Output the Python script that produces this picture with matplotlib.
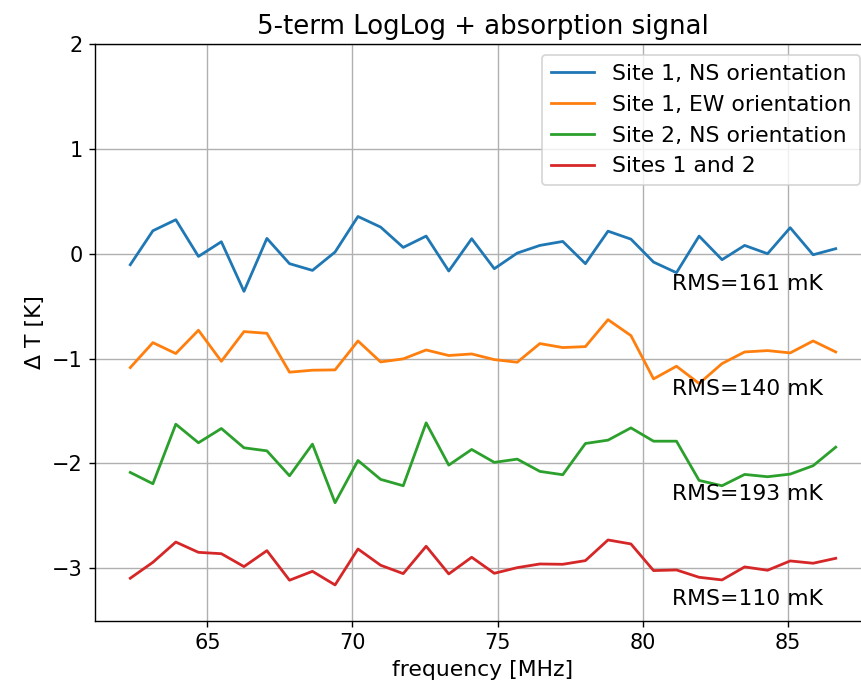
import matplotlib
matplotlib.use("Agg")
import matplotlib.pyplot as plt

freq = [62.34, 63.12, 63.91, 64.69, 65.48, 66.26, 67.05, 67.83,
        68.62, 69.40, 70.19, 70.97, 71.75, 72.54, 73.32, 74.11,
        74.89, 75.68, 76.46, 77.25, 78.03, 78.81, 79.60, 80.38,
        81.17, 81.95, 82.74, 83.52, 84.31, 85.09, 85.88, 86.66]

site1_ns = [-0.105, 0.219, 0.324, -0.026, 0.114, -0.359, 0.146, -0.095,
            -0.159, 0.016, 0.355, 0.254, 0.060, 0.168, -0.165, 0.143,
            -0.143, 0.006, 0.079, 0.117, -0.095, 0.215, 0.139, -0.080,
            -0.181, 0.168, -0.057, 0.079, 0.000, 0.248, -0.010, 0.048]

site1_ew = [-1.086, -0.848, -0.952, -0.730, -1.026, -0.743, -0.759, -1.130,
            -1.111, -1.108, -0.832, -1.032, -1.003, -0.918, -0.971, -0.956,
            -1.010, -1.035, -0.857, -0.895, -0.886, -0.629, -0.781, -1.194,
            -1.073, -1.238, -1.048, -0.937, -0.924, -0.946, -0.832, -0.937]

site2_ns = [-2.086, -2.194, -1.626, -1.803, -1.667, -1.851, -1.880, -2.118,
            -1.816, -2.375, -1.972, -2.152, -2.213, -1.613, -2.016, -1.867,
            -1.990, -1.959, -2.076, -2.108, -1.810, -1.778, -1.661, -1.788,
            -1.788, -2.162, -2.213, -2.105, -2.127, -2.102, -2.022, -1.845]

sites_12 = [-3.095, -2.943, -2.750, -2.848, -2.861, -2.984, -2.832, -3.114,
            -3.029, -3.159, -2.816, -2.971, -3.051, -2.790, -3.054, -2.895,
            -3.048, -2.994, -2.959, -2.962, -2.927, -2.730, -2.768, -3.022,
            -3.016, -3.086, -3.111, -2.987, -3.019, -2.930, -2.952, -2.905]

labels = ["Site 1, NS orientation", "Site 1, EW orientation",
          "Site 2, NS orientation", "Sites 1 and 2"]
offsets = [0, -1, -2, -3]
rms_text = ["RMS=161 mK", "RMS=140 mK", "RMS=193 mK", "RMS=110 mK"]

fig = plt.figure(figsize=(861 / 125, 690 / 125), dpi=125)
ax = fig.add_axes([95 / 861, 69.3 / 690, 776 / 861, 576.7 / 690])

for series, lab in zip([site1_ns, site1_ew, site2_ns, sites_12], labels):
    ax.plot(freq, series, label=lab, lw=1.6)

for off, txt in zip(offsets, rms_text):
    ax.text(81, off - 0.35, txt, fontsize=12.6)

ax.set_ylim(-3.5, 2)
ax.grid(True)
ax.tick_params(labelsize=12)
ax.set_xlabel("frequency [MHz]", fontsize=12.6)
ax.set_ylabel("Δ T [K]", fontsize=12.6)
ax.set_title("5-term LogLog + absorption signal", fontsize=15)
ax.legend(loc="upper right", fontsize=12.6)

fig.savefig("out.png", dpi=125)
